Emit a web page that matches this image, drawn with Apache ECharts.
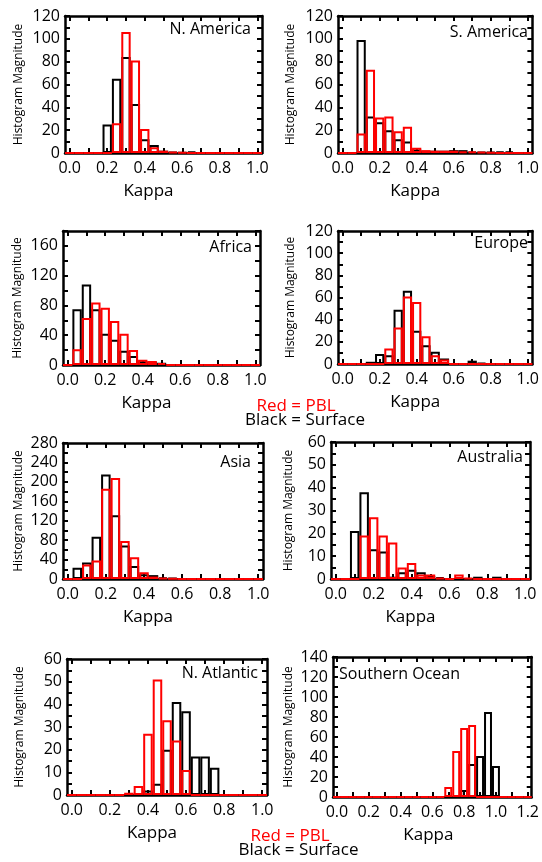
<!DOCTYPE html>
<html>
<head>
<meta charset="utf-8">
<script src="https://cdn.jsdelivr.net/npm/echarts@6/dist/echarts.min.js"></script>
<style>
html, body { margin: 0; padding: 0; background: #fff; }
#container { width: 542px; height: 862px; }
</style>
</head>
<body>
<div id="container"></div>
<script>
// bin centres (kappa), bin width 0.05
var kappaBins = ['0.00', '0.05', '0.10', '0.15', '0.20', '0.25', '0.30', '0.35', '0.40', '0.45', '0.50',
    '0.55', '0.60', '0.65', '0.70', '0.75', '0.80', '0.85', '0.90', '0.95', '1.00'];
var kappaBinsSO = ['0.00', '0.05', '0.10', '0.15', '0.20', '0.25', '0.30', '0.35', '0.40', '0.45', '0.50',
    '0.55', '0.60', '0.65', '0.70', '0.75', '0.80', '0.85', '0.90', '0.95', '1.00', '1.05', '1.10', '1.15', '1.20'];

// black = surface, red = PBL
var naSurface = [0, 0, 0, 0, 25, 65, 84, 43, 12, 7, 2, 1, 0.5, 1.5, 0, 0, 0, 0, 0, 0, 0];
var naPBL     = [0, 0, 0, 0, 0, 26, 106, 81, 21, 5, 2, 1, 0.5, 0, 0, 0, 0, 0, 0, 0, 0];
var saSurface = [0, 0, 99, 32, 27, 20, 12, 10, 3, 2, 2, 2, 2.5, 2.5, 1, 1, 1, 1.5, 1.5, 0, 0];
var saPBL     = [0, 0, 17, 73, 31, 32, 19, 23, 4.5, 2.5, 2, 2, 2, 1.5, 1.5, 1, 0.5, 0, 0, 0, 0];
var afSurface = [0, 75, 108, 75, 42, 34, 19, 12, 5, 4.5, 3, 0, 0, 0, 0, 0, 0, 0, 0, 0, 0];
var afPBL     = [0, 21, 63, 84, 77, 59, 42, 20, 7, 5.5, 2.5, 0, 0, 0, 0, 0, 0, 0, 0, 0, 0];
var euSurface = [0, 0, 0, 2, 9, 8, 49, 66, 30, 17, 11, 5, 0, 0, 3, 1, 0, 0, 0, 0, 0];
var euPBL     = [0, 0, 0, 0, 0, 14, 33, 61, 56, 25, 8, 4, 0, 0, 0, 0, 0, 0, 0, 0, 0];
var asSurface = [0, 23, 34, 87, 215, 131, 69, 27, 10, 8, 3, 2, 0, 0, 0, 0, 0, 0, 0, 0, 0];
var asPBL     = [0, 0, 30, 38, 186, 208, 78, 45, 14, 5, 2, 1, 0, 0, 0, 0, 0, 0, 0, 0, 0];
var auSurface = [0, 0, 21, 38, 13, 12, 1, 3, 4, 3, 1.3, 0.8, 0, 0, 0, 1, 0, 1, 0, 0, 0];
var auPBL     = [0, 0, 0, 19, 27, 19, 16, 5, 7, 2, 2, 0.5, 0, 2, 0.5, 0, 0, 0, 0, 0, 0];
var natSurface = [0, 0, 0, 0, 0, 0, 0, 0, 2, 5, 20, 41, 37, 17, 17, 12, 0, 0, 0, 0, 0];
var natPBL     = [0, 0, 0, 0, 0, 0, 1, 4, 27, 51, 33, 24, 11, 0, 0, 0, 0, 0, 0, 0, 0];
var soSurface = [0, 0, 0, 0, 0, 0, 0, 0, 0, 0, 0, 0, 0, 0, 0, 0, 7, 33, 41, 85, 31, 0, 0, 0, 0];
var soPBL     = [0, 0, 0, 0, 0, 0, 0, 0, 0, 0, 0, 0, 0, 0, 10, 46, 69, 72, 0, 0, 0, 0, 0, 0, 0];

var regionNames = ['N. America', 'S. America', 'Africa', 'Europe', 'Asia', 'Australia', 'N. Atlantic', 'Southern Ocean'];
var yMaxes = [120, 120, 180, 120, 280, 60, 60, 140];
var yLabelSteps = [20, 20, 40, 20, 40, 10, 10, 20];
var legendLines = ['Red = PBL', 'Black = Surface'];

var FONT = 'Open Sans';
var panels = [
    {bins: kappaBins, surface: naSurface, pbl: naPBL, box: [65, 16, 197, 137], title: {right: 291, top: 21}, yGap: 40, shift: 30},
    {bins: kappaBins, surface: saSurface, pbl: saPBL, box: [338, 16, 195, 137], title: {right: 14, top: 24}, yGap: 41, shift: 40},
    {bins: kappaBins, surface: afSurface, pbl: afPBL, box: [63, 231, 197, 134], title: {right: 290, top: 239}, yGap: 39, shift: 30},
    {bins: kappaBins, surface: euSurface, pbl: euPBL, box: [338, 231, 195, 133], title: {right: 14, top: 235}, yGap: 41, shift: 40},
    {bins: kappaBins, surface: asSurface, pbl: asPBL, box: [63, 443, 200, 136], title: {right: 291, top: 454}, yGap: 38, shift: 30},
    {bins: kappaBins, surface: auSurface, pbl: auPBL, box: [331, 442, 199, 137], title: {right: 19, top: 449}, yGap: 36, shift: 40},
    {bins: kappaBins, surface: natSurface, pbl: natPBL, box: [67, 659, 200, 136], title: {right: 284, top: 665}, yGap: 41, shift: 30},
    {bins: kappaBinsSO, surface: soSurface, pbl: soPBL, box: [333, 657, 199, 140], title: {left: 339, top: 666}, yGap: 38, shift: 8}
];

var dom = document.getElementById('container');
var myChart = echarts.init(dom, null, {renderer: 'canvas'});

var frame = {show: true, onZero: false, lineStyle: {color: '#000', width: 2.5}};
var tick = {show: true, inside: true, length: 5, lineStyle: {color: '#000', width: 2}};

var option = {
    animation: false,
    backgroundColor: '#fff',
    title: [],
    grid: [],
    xAxis: [],
    yAxis: [],
    series: [],
    graphic: []
};

panels.forEach(function (p, i) {
    var yStep = yLabelSteps[i];
    var t = {text: regionNames[i], top: p.title.top, padding: 0,
        textStyle: {fontFamily: FONT, fontSize: 16, fontWeight: 'normal', color: '#000'}};
    if (p.title.left !== undefined) { t.left = p.title.left; } else { t.right = p.title.right; }
    option.title.push(t);

    option.grid.push({left: p.box[0], top: p.box[1], width: p.box[2], height: p.box[3]});

    var xTick = echarts.util.merge({alignWithLabel: true, interval: 1}, tick, true);
    option.xAxis.push({
        type: 'category', gridIndex: i, data: p.bins, position: 'bottom',
        axisLine: frame, axisTick: xTick,
        axisLabel: {interval: 3, margin: 7, fontFamily: FONT, fontSize: 16, color: '#000',
            formatter: function (v) { return parseFloat(v).toFixed(1); }},
        splitLine: {show: false},
        name: 'Kappa', nameLocation: 'middle', nameGap: 30,
        nameTextStyle: {fontFamily: FONT, fontSize: 17, color: '#000', padding: [0, p.shift, 0, 0]}
    });
    option.xAxis.push({
        type: 'category', gridIndex: i, data: p.bins, position: 'top',
        axisLine: frame, axisTick: xTick, axisLabel: {show: false}, splitLine: {show: false}
    });
    option.yAxis.push({
        type: 'value', gridIndex: i, min: 0, max: yMaxes[i], interval: yStep / 2, position: 'left',
        axisLine: frame, axisTick: tick, splitLine: {show: false},
        axisLabel: {margin: 5, fontFamily: FONT, fontSize: 16, color: '#000',
            formatter: function (v) { return v % yStep === 0 ? v : ''; }},
        name: 'Histogram Magnitude', nameLocation: 'middle', nameGap: p.yGap,
        nameTextStyle: {fontFamily: FONT, fontSize: 12, color: '#000'}
    });
    option.yAxis.push({
        type: 'value', gridIndex: i, min: 0, max: yMaxes[i], interval: yStep / 2, position: 'right',
        axisLine: frame, axisTick: tick, axisLabel: {show: false}, splitLine: {show: false}
    });

    option.series.push({
        type: 'bar', name: 'Surface', xAxisIndex: 2 * i, yAxisIndex: 2 * i, data: p.surface,
        barWidth: '100%', barGap: '-100%',
        itemStyle: {color: 'rgba(0,0,0,0)', borderColor: '#000', borderWidth: 2}
    });
    option.series.push({
        type: 'bar', name: 'PBL', xAxisIndex: 2 * i, yAxisIndex: 2 * i, data: p.pbl,
        barWidth: '100%', barGap: '-100%',
        itemStyle: {color: 'rgba(0,0,0,0)', borderColor: '#ff0000', borderWidth: 2}
    });
});

// "Red = PBL / Black = Surface" notes, twice
[[296, 305, 398], [290, 298.5, 828]].forEach(function (pos) {
    option.graphic.push({type: 'text', x: pos[0], y: pos[2],
        style: {text: legendLines[0], fill: '#ff0000', font: '17px "Open Sans"', textAlign: 'center'}});
    option.graphic.push({type: 'text', x: pos[1], y: pos[2] + 14,
        style: {text: legendLines[1], fill: '#000', font: '17px "Open Sans"', textAlign: 'center'}});
});

if (option && typeof option === 'object') {
    myChart.setOption(option, true);
}
</script>
</body>
</html>
